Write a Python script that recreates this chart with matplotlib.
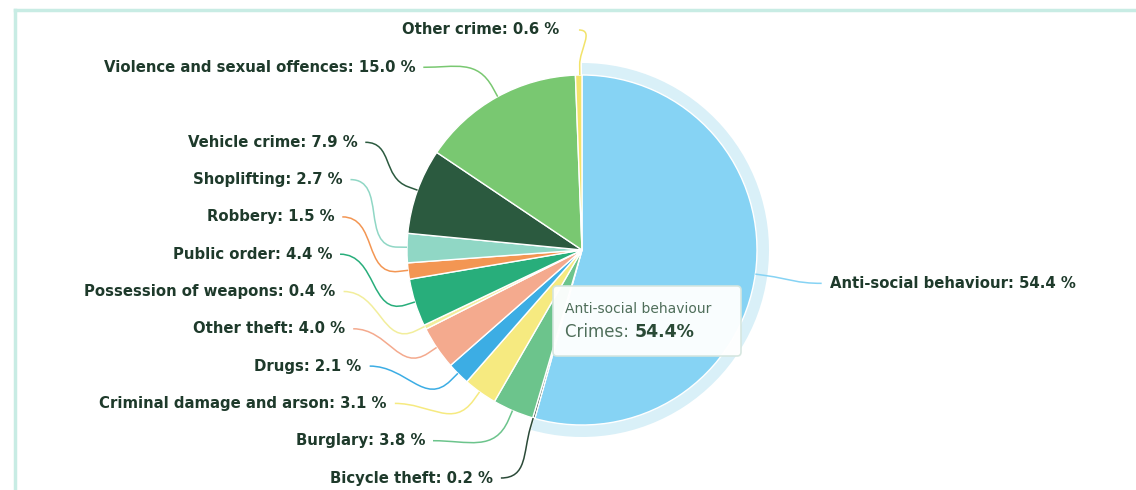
import numpy as np
import matplotlib
matplotlib.use('Agg')
import matplotlib.pyplot as plt
from matplotlib.path import Path
from matplotlib.patches import PathPatch, FancyBboxPatch, Wedge

# crime categories, clockwise from 12 o'clock
categories = ['Anti-social behaviour', 'Bicycle theft', 'Burglary',
              'Criminal damage and arson', 'Drugs', 'Other theft',
              'Possession of weapons', 'Public order', 'Robbery',
              'Shoplifting', 'Vehicle crime', 'Violence and sexual offences',
              'Other crime']
# share of crimes, %
values = [54.4, 0.2, 3.8, 3.1, 2.1, 4.0, 0.4, 4.4, 1.5, 2.7, 7.9, 15.0, 0.6]
colors = ['#86d3f4', '#2b4a38', '#6cc48c', '#f6ea80', '#3cade4', '#f4aa8e',
          '#f2ee9c', '#28ae7b', '#f39653', '#90d7c5', '#2b5a3f', '#79c871',
          '#f2e36a']

W, H = 1136, 490
cx, cy_px, r = 582, 250, 175
cy = H - cy_px
lab_r = 242
gap = 8
spacing = 37.3
ymin, ymax = 30, 478
txt_color = '#1e3a2b'

fig = plt.figure(figsize=(W / 100, H / 100), dpi=100)
ax = fig.add_axes([0, 0, 1, 1])

# hover halo round the first slice
halo = Wedge((cx, cy), r + 12, 90 - values[0] * 3.6, 90, width=12,
             facecolor='#d9f0f8', edgecolor='none', zorder=1)
ax.add_patch(halo)

ax.pie(values, colors=colors, startangle=90, counterclock=False,
       center=(cx, cy), radius=r,
       wedgeprops=dict(edgecolor='white', linewidth=1, zorder=2))
ax.set_xlim(0, W)
ax.set_ylim(0, H)
ax.set_aspect('auto')
ax.axis('off')

# mid angles, measured clockwise from top
cum = np.cumsum([0] + values[:-1])
theta = np.radians((cum + np.array(values) / 2) * 3.6)
nat_y = cy_px - lab_r * np.cos(theta)
left = np.sin(theta) < 0


def distribute(idx):
    idx = sorted(idx, key=lambda i: nat_y[i])
    ys = {i: nat_y[i] for i in idx}
    # push up from the bottom
    prev = ymax + spacing
    for i in reversed(idx):
        ys[i] = min(ys[i], prev - spacing)
        prev = ys[i]
    # then push down from the top
    prev = ymin - spacing
    clamped = set()
    for i in idx:
        if ys[i] <= prev + spacing:
            if prev < ymin:
                clamped.add(i)
            ys[i] = prev + spacing
        prev = ys[i]
    return ys, clamped


left_y, left_top = distribute([i for i in range(len(values)) if left[i]])
right_y, right_top = distribute([i for i in range(len(values)) if not left[i]])
label_y = {**left_y, **right_y}
top_clamped = left_top | right_top

for i, name in enumerate(categories):
    side = -1 if left[i] else 1
    y = label_y[i]
    y_for_x = nat_y[i] if i in top_clamped else y
    dy = y_for_x - cy_px
    xc = cx + side * np.sqrt(max(lab_r ** 2 - dy ** 2, 0))
    tgap = gap * 2.5 if i in top_clamped else gap
    # connector: soft curve from label to slice edge
    ux, uy = np.sin(theta[i]), np.cos(theta[i])
    ex, ey = cx + r * ux, cy + r * uy
    bx, by = cx + (r + 10) * ux, cy + (r + 10) * uy
    ax_, ay_ = xc, H - y
    k = 0.45 * np.hypot(bx - ax_, by - ay_)
    verts = [(ax_, ay_), (ax_ - side * k, ay_), (bx + ux * k, by + uy * k),
             (bx, by), (ex, ey)]
    codes = [Path.MOVETO, Path.CURVE4, Path.CURVE4, Path.CURVE4, Path.LINETO]
    ax.add_patch(PathPatch(Path(verts, codes), facecolor='none',
                           edgecolor=colors[i], linewidth=1.1, zorder=3))
    ax.text(xc + side * tgap, H - y, f'{name}: {values[i]:.1f} %',
            ha='left' if side > 0 else 'right', va='center',
            fontsize=10.7, fontweight='bold', color=txt_color, zorder=4)

# tooltip for the hovered slice
box = FancyBboxPatch((553, H - 356), 188, 70,
                     boxstyle='round,pad=0,rounding_size=4',
                     facecolor='white', edgecolor='#d5e6df', linewidth=1.2,
                     alpha=0.96, zorder=5)
ax.add_patch(box)
ax.text(565, H - 309, categories[0], fontsize=10, color='#4f6e5a',
        va='center', ha='left', zorder=6)
t1 = ax.text(565, H - 332, 'Crimes: ', fontsize=12, color='#4f6e5a',
             va='center', ha='left', zorder=6)
ax.annotate(f'{values[0]:.1f}%', xy=(1, 0.5), xycoords=t1, va='center',
            ha='left', fontsize=12.5, fontweight='bold', color='#2a4a36',
            zorder=6)

# frame of the chart panel
ax.plot([15, 15], [0, H - 10], color='#c8ece4', linewidth=2.5, zorder=0)
ax.plot([15, W], [H - 10, H - 10], color='#c8ece4', linewidth=2.5, zorder=0)

fig.savefig('out.png', dpi=100, facecolor='white')
